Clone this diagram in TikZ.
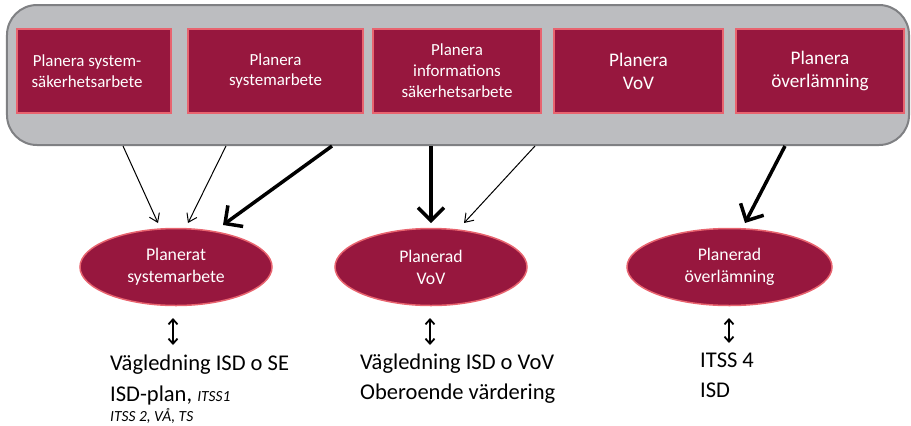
\documentclass[tikz,border=0pt]{standalone}
\usepackage{fontspec}
\setmainfont{Carlito}
\usetikzlibrary{arrows.meta,shapes.geometric}
\definecolor{crim}{HTML}{97173E}
\definecolor{pinkb}{HTML}{E8646F}
\definecolor{grayf}{HTML}{BCBDC0}
\definecolor{grayb}{HTML}{7F8083}
\begin{document}
\begin{tikzpicture}[x=1bp,y=-1bp,
 container/.style={draw=grayb, line width=2bp, fill=grayf, rounded corners=30bp, minimum width=902bp, minimum height=140bp, inner sep=0},
 taskbox/.style={draw=pinkb, line width=2bp, fill=crim, text=white, align=center, minimum height=84bp, inner sep=0},
 smalltxt/.style={font=\fontsize{17}{21}\selectfont},
 bigtxt/.style={font=\fontsize{19.3}{23}\selectfont},
 result/.style={ellipse, draw=pinkb, line width=1.5bp, fill=crim, text=white, align=center, minimum height=77bp, inner sep=0, font=\fontsize{17.8}{22}\selectfont},
 thinarr/.style={-{Straight Barb[length=8bp,width=11bp]}, line width=1bp},
 thickarr/.style={-{Straight Barb[length=13bp,width=26bp]}, line width=3.5bp},
 dblarr/.style={{Straight Barb[length=5bp,width=9bp]}-{Straight Barb[length=5bp,width=9bp]}, line width=1.8bp},
 doc/.style={anchor=base west, inner sep=0, font=\fontsize{22.6}{26}\selectfont},
 docsmall/.style={anchor=base west, inner sep=0, font=\fontsize{15.5}{17}\selectfont\itshape},
]
\useasboundingbox (0,0) rectangle (911,425);
\node[container] (bg) at (458,75) {};
\node[taskbox, smalltxt, minimum width=154bp] (b1) at (94,71) {Planera system-\hspace*{14bp}\\säkerhetsarbete\hspace*{14bp}};
\node[taskbox, smalltxt, minimum width=175bp] (b2) at (275.5,71) {Planera\\systemarbete};
\node[taskbox, smalltxt, minimum width=168bp] (b3) at (457,71) {Planera\\informations\\säkerhetsarbete};
\node[taskbox, bigtxt, minimum width=169bp] (b4) at (638.5,71) {Planera\\VoV};
\node[taskbox, bigtxt, minimum width=168bp] (b5) at (820,71) {Planera\\överlämning};

\node[result, minimum width=192bp] (e1) at (176,267) {Planerat\\systemarbete};
\node[result, minimum width=192bp] (e2) at (431,267) {Planerad\\VoV};
\node[result, minimum width=205bp] (e3) at (729.5,267) {Planerad\\överlämning};

\coordinate (s1) at (123,146); \coordinate (t1) at (158,223);
\coordinate (s2) at (226,146); \coordinate (t2) at (188,223);
\coordinate (s3) at (332,146); \coordinate (t3) at (223,225);
\coordinate (s4) at (431,146); \coordinate (t4) at (431,223);
\coordinate (s5) at (535,146); \coordinate (t5) at (464,223);
\coordinate (s6) at (785,146); \coordinate (t6) at (745,223);
\draw[thinarr] (s1) -- (t1);
\draw[thinarr] (s2) -- (t2);
\draw[thickarr] (s3) -- (t3);
\draw[thickarr] (s4) -- (t4);
\draw[thinarr] (s5) -- (t5);
\draw[thickarr] (s6) -- (t6);

\node[doc] (d1) at (110,370) {Vägledning ISD o SE};
\node[doc] (d1b) at (110,401) {ISD-plan, {\fontsize{15.5}{17}\selectfont\itshape ITSS1}};
\node[docsmall] (d1c) at (110,421) {ITSS 2, VÅ, TS};
\node[doc] (d2) at (360,369) {Vägledning ISD o VoV};
\node[doc] (d2b) at (360,399) {Oberoende värdering};
\node[doc] (d3) at (700,367) {ITSS 4};
\node[doc] (d3b) at (700,397) {ISD};

\coordinate (u1) at (173,318); \coordinate (v1) at (173,345);
\coordinate (u2) at (430,318); \coordinate (v2) at (430,345);
\coordinate (u3) at (729,318); \coordinate (v3) at (729,343);
\draw[dblarr] (u1) -- (v1);
\draw[dblarr] (u2) -- (v2);
\draw[dblarr] (u3) -- (v3);
\end{tikzpicture}
\end{document}
